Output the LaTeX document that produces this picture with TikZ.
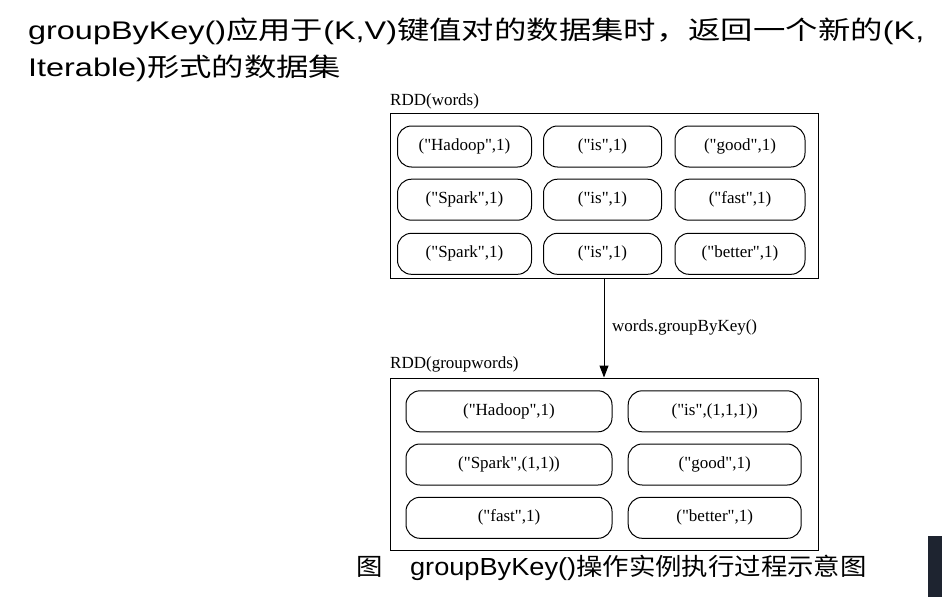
\documentclass[tikz,border=0pt]{standalone}
\usepackage{graphicx}
\usepackage{fontspec}
\setmainfont{Liberation Serif}[Ligatures=TeXOff]
\newfontfamily\arialfont{Liberation Sans}
\newfontfamily\cjkfont{Noto Sans CJK SC}
\usetikzlibrary{arrows.meta, positioning}
\definecolor{panel}{RGB}{30,36,48}
\tikzset{
	pairbox/.style={draw, rounded corners=14pt, line width=1pt, minimum height=41pt, inner sep=0pt, font=\fontsize{17}{20}\selectfont},
	rddbox/.style={draw, line width=1pt, inner sep=0pt},
	rddlabel/.style={anchor=base west, inner sep=0pt, font=\fontsize{17}{20}\selectfont},
	titletext/.style={anchor=base west, inner sep=0pt, font=\arialfont\fontsize{25.5}{30}\selectfont},
}

\begin{document}
\begin{tikzpicture}[x=1pt, y=-1pt]
	\useasboundingbox (0,0) rectangle (942,597);
	% Title, boxes and arrow:
	\node[titletext](T1) at (28, 39.5){\scalebox{1.27}[1]{groupByKey(){\cjkfont 应用于}(K,V){\cjkfont 键值对的数据集时，返回一个新的}(K,}};
	\node[titletext](T2) at (28, 76){\scalebox{1.27}[1]{Iterable){\cjkfont 形式的数据集}}};
	\node[rddlabel](L1) at (390, 105){RDD(words)};
	\node[rddbox, minimum width=428pt, minimum height=165pt](R1) at (604, 195.5){};
	\node[pairbox, minimum width=134pt](W1) at (464.5, 146.5){("Hadoop",1)};
	\node[pairbox, minimum width=118pt](W2) at (602.5, 146.5){("is",1)};
	\node[pairbox, minimum width=130pt](W3) at (740, 146.5){("good",1)};
	\node[pairbox, minimum width=134pt](W4) at (464.5, 199.7){("Spark",1)};
	\node[pairbox, minimum width=118pt](W5) at (602.5, 199.7){("is",1)};
	\node[pairbox, minimum width=130pt](W6) at (740, 199.7){("fast",1)};
	\node[pairbox, minimum width=134pt](W7) at (464.5, 253.8){("Spark",1)};
	\node[pairbox, minimum width=118pt](W8) at (602.5, 253.8){("is",1)};
	\node[pairbox, minimum width=130pt](W9) at (740, 253.8){("better",1)};
	\node[rddlabel](L2) at (390, 368){RDD(groupwords)};
	\node[rddbox, minimum width=428pt, minimum height=172pt](R2) at (604, 464){};
	\node[pairbox, minimum width=206pt](G1) at (509, 411.3){("Hadoop",1)};
	\node[pairbox, minimum width=173pt](G2) at (714.7, 411.3){("is",(1,1,1))};
	\node[pairbox, minimum width=206pt](G3) at (509, 464.5){("Spark",(1,1))};
	\node[pairbox, minimum width=173pt](G4) at (714.7, 464.5){("good",1)};
	\node[pairbox, minimum width=206pt](G5) at (509, 517.8){("fast",1)};
	\node[pairbox, minimum width=173pt](G6) at (714.7, 517.8){("better",1)};
	\draw[-{Triangle[length=12pt, width=9pt]}, line width=1pt] (R1.south) -- (R2.north);
	\node[rddlabel](L3) at (612, 331){words.groupByKey()};
	\node[anchor=base west, inner sep=0pt](C1) at (356, 575){\scalebox{1.1}[1]{{\cjkfont\fontsize{24}{28}\selectfont 图}\hspace{25pt}{\arialfont\fontsize{24.7}{30}\selectfont groupByKey()}{\cjkfont\fontsize{24}{28}\selectfont 操作实例执行过程示意图}}};
	\fill[panel] (928, 536) rectangle (942, 597);
\end{tikzpicture}
\end{document}
